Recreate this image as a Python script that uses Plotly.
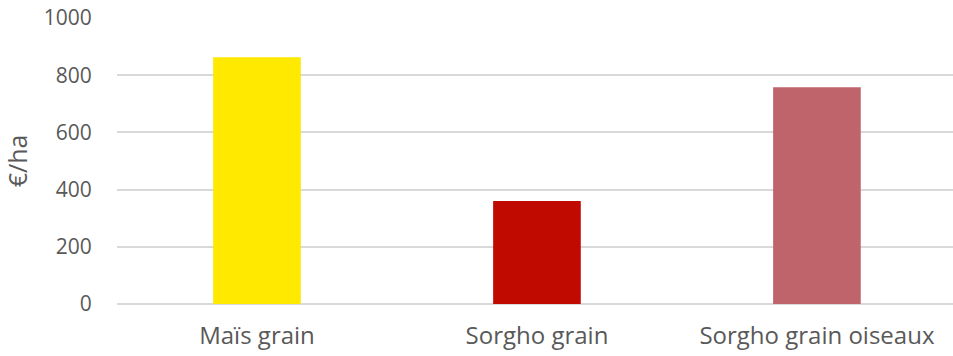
import plotly.graph_objects as go

categories = ["Maïs grain", "Sorgho grain", "Sorgho grain oiseaux"]
values = [863, 360, 758]
colors = ["#FFE900", "#C00A00", "#C0646B"]
y_ticks = [0, 200, 400, 600, 800, 1000]

fig = go.Figure(go.Bar(x=categories, y=values, marker=dict(color=colors, line=dict(width=0)),
                       width=0.313))

fig.update_layout(
    width=953, height=356,
    margin=dict(l=117, r=0, t=18, b=52),
    paper_bgcolor="white", plot_bgcolor="white",
    font=dict(family="Open Sans", color="#595959"),
    showlegend=False,
)
fig.update_xaxes(range=[-0.5, 2.486], showgrid=False, showline=False, zeroline=False,
                 tickfont=dict(size=24, color="#595959"), ticks="outside", ticklen=10,
                 tickcolor="rgba(0,0,0,0)")
fig.update_yaxes(range=[0, 1000], tickvals=y_ticks, showgrid=True, gridcolor="#D9D9D9",
                 gridwidth=1.5, zeroline=True, zerolinecolor="#D9D9D9", zerolinewidth=1.5,
                 showline=False, tickfont=dict(size=21, color="#595959"),
                 ticks="outside", ticklen=20, tickcolor="rgba(0,0,0,0)",
                 title=dict(text="€/ha", font=dict(size=25, color="#595959"), standoff=12))

fig.write_html("out.html")
